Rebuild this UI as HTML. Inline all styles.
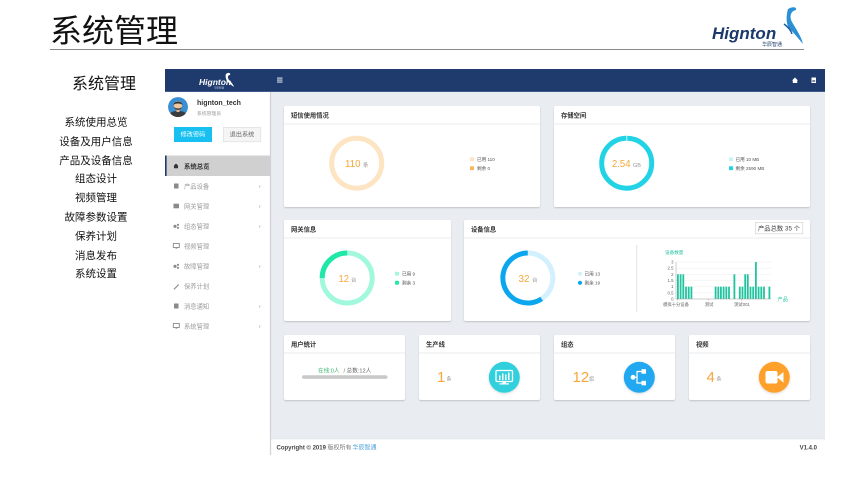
<!DOCTYPE html>
<html><head><meta charset="utf-8">
<style>
html,body{margin:0;padding:0;background:#fff;}
svg{display:block;}
text{font-family:"Liberation Sans","Noto Sans CJK SC",sans-serif;}
</style></head>
<body>
<svg width="842" height="480" viewBox="0 0 842 480" xmlns="http://www.w3.org/2000/svg">
<defs>
<filter id="sh" x="-5%" y="-5%" width="110%" height="115%">
<feDropShadow dx="0" dy="1" stdDeviation="0.8" flood-color="#000" flood-opacity="0.18"/>
</filter>
<filter id="ish" x="-30%" y="-30%" width="160%" height="160%">
<feDropShadow dx="0" dy="1" stdDeviation="1.2" flood-color="#000" flood-opacity="0.15"/>
</filter>
<clipPath id="av"><circle cx="178" cy="107" r="10"/></clipPath>
</defs>
<rect width="842" height="480" fill="#fff"/>

<!-- Slide title -->
<text x="50" y="42" font-size="32" fill="#111">系统管理</text>
<line x1="50" y1="49.5" x2="804" y2="49.5" stroke="#8a8a8a" stroke-width="1"/>

<!-- top right logo -->
<path d="M788 9 C793 6 797 7 796 10 C791 11 789 16 792 22 C796 29 801 36 803 44 C798 38 793 32 789 28 C786 24 786 16 788 9 Z" fill="#2b8fd4"/>
<path d="M784 24 C788 27 791 30 792 34" stroke="#1b5ea0" stroke-width="1.5" fill="none"/>
<text x="712" y="39" font-size="17" font-weight="bold" font-style="italic" fill="#1b3a6a">Hignton</text>
<text x="762" y="46" font-size="5" fill="#1b3a6a">华辰智通</text>

<!-- Left list -->
<text x="104" y="89" font-size="16" text-anchor="middle" fill="#111">系统管理</text>
<g font-size="10.5" text-anchor="middle" fill="#111">
<text x="96" y="125.5">系统使用总览</text>
<text x="96" y="144.8">设备及用户信息</text>
<text x="96" y="163.8">产品及设备信息</text>
<text x="96" y="182.1">组态设计</text>
<text x="96" y="201.1">视频管理</text>
<text x="96" y="220.5">故障参数设置</text>
<text x="96" y="239.5">保养计划</text>
<text x="96" y="258.8">消息发布</text>
<text x="96" y="277.1">系统设置</text>
</g>

<!-- App frame -->
<rect x="165" y="69" width="660" height="23" fill="#1f3b6d"/>
<rect x="165" y="91" width="660" height="1" fill="#3d5c8c"/>
<rect x="165" y="92" width="105" height="363" fill="#fff"/>
<rect x="271" y="92" width="554" height="347" fill="#e9edf2"/>
<rect x="271" y="439" width="554" height="16" fill="#fff"/>
<line x1="271" y1="439" x2="825" y2="439" stroke="#dde1e6" stroke-width="0.6"/>
<line x1="270.5" y1="92" x2="270.5" y2="455" stroke="#cfd2d6" stroke-width="1.2"/>

<!-- navbar logo -->
<text x="199" y="85" font-size="8.5" font-weight="bold" font-style="italic" fill="#fff">Hignton</text>
<path d="M226 74 C228 72 231 73 230 75 C228 75 227 77 229 80 C231 82 233 84 234 87 C231 85 229 83 227 81 C226 79 225 76 226 74Z" fill="#fff"/>
<text x="214" y="88.5" font-size="2.5" fill="#cfd8e8">华辰智通</text>
<!-- hamburger -->
<rect x="277" y="77.6" width="5.5" height="0.9" fill="#fff"/>
<rect x="277" y="79.6" width="5.5" height="0.9" fill="#fff"/>
<rect x="277" y="81.6" width="5.5" height="0.9" fill="#fff"/>
<!-- home icon -->
<path d="M792 80.5 L795 77.5 L798 80.5 L797.2 80.5 L797.2 83 L792.8 83 L792.8 80.5 Z" fill="#fff"/>
<!-- doc icon -->
<rect x="811.5" y="77.5" width="4.5" height="5.5" fill="#fff"/>
<rect x="812.3" y="80" width="2.9" height="0.6" fill="#1f3b6d"/>
<rect x="812.3" y="81.3" width="2.9" height="0.6" fill="#1f3b6d"/>

<!-- user -->
<g clip-path="url(#av)">
<circle cx="178" cy="107" r="10" fill="#3a8fd2"/>
<path d="M168 118 C169 112 173 111 178 111 C183 111 187 112 188 118 Z" fill="#3b3b3b"/>
<rect x="176.5" y="109" width="3" height="3" fill="#e8b98f"/>
<circle cx="178" cy="105.5" r="4.2" fill="#f1c79d"/>
<path d="M173.6 105 C173.5 100.5 182.5 100.5 182.4 105 C181 103 175 103 173.6 105Z" fill="#333"/>
<path d="M174 106.5 C174.5 111 181.5 111 182 106.5 C181 109 175 109 174 106.5Z" fill="#4a3a30"/>
</g>
<text x="197" y="105" font-size="7" font-weight="bold" fill="#333">hignton_tech</text>
<text x="197" y="115" font-size="4.8" fill="#9a9a9a">系统管理员</text>
<rect x="174" y="127" width="38" height="15" fill="#17c0f0"/>
<text x="193" y="136.6" font-size="6.2" fill="#fff" text-anchor="middle">修改密码</text>
<rect x="223.3" y="127.3" width="37.5" height="14.5" fill="#f5f5f5" stroke="#dcdcdc" stroke-width="0.6"/>
<text x="242" y="136.6" font-size="6.2" fill="#666" text-anchor="middle">退出系统</text>

<!-- active menu -->
<rect x="165" y="155.5" width="105" height="20.5" fill="#d0d0d0"/>
<rect x="165" y="155.5" width="1.6" height="20.5" fill="#1f3b6d"/>
<path d="M173.5 166 L176 163.5 L178.5 166 L178 166 L178 168.2 L174 168.2 L174 166Z" fill="#333"/>
<text x="184" y="168.3" font-size="6.4" font-weight="bold" fill="#333">系统总览</text>

<g font-size="6.3" fill="#9b9b9b">
<text x="184" y="188.3">产品设备</text>
<text x="184" y="208.3">网关管理</text>
<text x="184" y="228.3">组态管理</text>
<text x="184" y="248.3">视频管理</text>
<text x="184" y="268.3">故障管理</text>
<text x="184" y="288.3">保养计划</text>
<text x="184" y="308.3">消息通知</text>
<text x="184" y="328.3">系统管理</text>
</g>
<g fill="#8a8a8a">
<rect x="174" y="183.5" width="4.5" height="5" rx="0.5"/>
<rect x="173.5" y="203.7" width="5.5" height="4.6"/>
<circle cx="175" cy="226.3" r="1.6"/><circle cx="178" cy="224.8" r="1.1"/><circle cx="178" cy="227.8" r="1.1"/>
<rect x="173.3" y="243.5" width="6" height="4" fill="none" stroke="#8a8a8a" stroke-width="0.9"/><rect x="175.5" y="247.5" width="1.6" height="1.2"/>
<circle cx="175" cy="266.3" r="1.6"/><circle cx="178" cy="264.8" r="1.1"/><circle cx="178" cy="267.8" r="1.1"/>
<path d="M173.5 289 L177 285.5 L178.5 284 L179 285 L177.8 286.2 L174.3 289.7Z"/>
<rect x="174" y="303.5" width="4.5" height="5" rx="0.5"/>
<rect x="173.3" y="323.5" width="6" height="4" fill="none" stroke="#8a8a8a" stroke-width="0.9"/><rect x="175.5" y="327.5" width="1.6" height="1.2"/>
</g>
<g font-size="7" fill="#b0b0b0">
<text x="258.5" y="188.5">‹</text>
<text x="258.5" y="208.5">‹</text>
<text x="258.5" y="228.5">‹</text>
<text x="258.5" y="268.5">‹</text>
<text x="258.5" y="308.5">‹</text>
<text x="258.5" y="328.5">‹</text>
</g>

<!-- Cards -->
<g fill="#fff" filter="url(#sh)">
<rect x="284" y="106" width="256" height="101" rx="2"/>
<rect x="554" y="106" width="256" height="101" rx="2"/>
<rect x="284" y="220" width="167" height="101" rx="2"/>
<rect x="464" y="220" width="346" height="101" rx="2"/>
<rect x="284" y="335" width="121" height="65" rx="2"/>
<rect x="419" y="335" width="121" height="65" rx="2"/>
<rect x="554" y="335" width="121" height="65" rx="2"/>
<rect x="689" y="335" width="121" height="65" rx="2"/>
</g>
<g stroke="#e3e5e8" stroke-width="0.8">
<line x1="284" y1="124" x2="540" y2="124"/>
<line x1="554" y1="124" x2="810" y2="124"/>
<line x1="284" y1="238" x2="451" y2="238"/>
<line x1="464" y1="238" x2="810" y2="238"/>
<line x1="284" y1="353" x2="405" y2="353"/>
<line x1="419" y1="353" x2="540" y2="353"/>
<line x1="554" y1="353" x2="675" y2="353"/>
<line x1="689" y1="353" x2="810" y2="353"/>
</g>
<g font-size="6.3" font-weight="bold" fill="#333">
<text x="291" y="117.5">短信使用情况</text>
<text x="561" y="117.5">存储空间</text>
<text x="291" y="231.5">网关信息</text>
<text x="471" y="231.5">设备信息</text>
<text x="291" y="346.5">用户统计</text>
<text x="426" y="346.5">生产线</text>
<text x="561" y="346.5">组态</text>
<text x="696" y="346.5">视频</text>
</g>

<!-- Donut 1 -->
<circle cx="356.7" cy="163.2" r="25" fill="none" stroke="#fde4c3" stroke-width="5"/>
<text x="345" y="167" font-size="10.5" fill="#f8a63a" textLength="15.5" lengthAdjust="spacingAndGlyphs">110</text>
<text x="363" y="166.8" font-size="5.5" fill="#999">条</text>
<rect x="470" y="157.3" width="4" height="3.8" fill="#fde4c3"/>
<rect x="470" y="166.3" width="4" height="3.8" fill="#f9b75a"/>
<text x="477" y="161" font-size="4.6" fill="#555">已用 110</text>
<text x="477" y="170" font-size="4.6" fill="#555">剩余 0</text>

<!-- Donut 2 -->
<circle cx="626.7" cy="163.2" r="25" fill="none" stroke="#22d3e6" stroke-width="5"/>
<rect x="626.4" y="135.7" width="0.8" height="5" fill="#e6fbfd"/>
<text x="612" y="167" font-size="10.5" fill="#f8a63a" textLength="18.5" lengthAdjust="spacingAndGlyphs">2.54</text>
<text x="633" y="166.8" font-size="5.5" fill="#999">GB</text>
<rect x="729" y="157.3" width="4" height="3.8" fill="#c9f3fa"/>
<rect x="729" y="166.3" width="4" height="3.8" fill="#22d3e6"/>
<text x="735.5" y="161" font-size="4.6" fill="#555">已用 10 MB</text>
<text x="735.5" y="170" font-size="4.6" fill="#555">剩余 2590 MB</text>

<!-- Donut 3 -->
<circle cx="347.2" cy="278" r="25" fill="none" stroke="#a2f8dd" stroke-width="5"/>
<path d="M322.2 278 A25 25 0 0 1 347.2 253" fill="none" stroke="#1de8a8" stroke-width="5"/>
<text x="338.5" y="282" font-size="10.5" fill="#f8a63a" textLength="10.5" lengthAdjust="spacingAndGlyphs">12</text>
<text x="351" y="281.8" font-size="5.5" fill="#999">台</text>
<rect x="395" y="271.7" width="4" height="4" rx="1.2" fill="#a2f8dd"/>
<rect x="395" y="280.7" width="4" height="4" rx="1.2" fill="#1de8a8"/>
<text x="402" y="275.5" font-size="4.6" fill="#555">已用 9</text>
<text x="402" y="284.5" font-size="4.6" fill="#555">剩余 3</text>

<!-- Donut 4 -->
<path d="M527.8 253 A25 25 0 0 1 541.7 298.8" fill="none" stroke="#d2f0fd" stroke-width="5"/>
<path d="M541.7 298.8 A25 25 0 1 1 527.8 253" fill="none" stroke="#0ca6ee" stroke-width="5"/>
<text x="518.5" y="282" font-size="10.5" fill="#f8a63a" textLength="11" lengthAdjust="spacingAndGlyphs">32</text>
<text x="532" y="281.8" font-size="5.5" fill="#999">台</text>
<circle cx="580" cy="273.8" r="2.1" fill="#d2f0fd"/>
<circle cx="580" cy="282.8" r="2.1" fill="#0ca6ee"/>
<text x="584.5" y="275.5" font-size="4.6" fill="#555">已用 13</text>
<text x="584.5" y="284.5" font-size="4.6" fill="#555">剩余 19</text>

<!-- product count box -->
<rect x="755.3" y="222.3" width="47.5" height="11.5" fill="#fff" stroke="#cfcfcf" stroke-width="0.6"/>
<text x="779" y="230.6" font-size="6.3" fill="#444" text-anchor="middle">产品总数 35 个</text>

<!-- divider -->
<line x1="636.8" y1="245" x2="636.8" y2="312" stroke="#dcdcdc" stroke-width="0.8"/>

<!-- bar chart -->
<text x="665" y="254" font-size="4.6" fill="#22c4a0">设备数量</text>
<g stroke="#ececec" stroke-width="0.5">
<line x1="676" y1="262" x2="771" y2="262"/>
<line x1="676" y1="268.2" x2="771" y2="268.2"/>
<line x1="676" y1="274.3" x2="771" y2="274.3"/>
<line x1="676" y1="280.5" x2="771" y2="280.5"/>
<line x1="676" y1="286.7" x2="771" y2="286.7"/>
<line x1="676" y1="292.8" x2="771" y2="292.8"/>
</g>
<g font-size="4.3" fill="#666" text-anchor="end">
<text x="673.5" y="263.5">3</text>
<text x="673.5" y="269.7">2.5</text>
<text x="673.5" y="275.8">2</text>
<text x="673.5" y="282">1.5</text>
<text x="673.5" y="288.2">1</text>
<text x="673.5" y="294.3">0.5</text>
<text x="673.5" y="300.5">0</text>
</g>
<g fill="#22c4a0">
<rect x="677.0" y="274.3" width="1.8" height="24.7"/>
<rect x="679.7" y="274.3" width="1.8" height="24.7"/>
<rect x="682.4" y="274.3" width="1.8" height="24.7"/>
<rect x="685.1" y="286.7" width="1.8" height="12.3"/>
<rect x="687.8" y="286.7" width="1.8" height="12.3"/>
<rect x="690.5" y="286.7" width="1.8" height="12.3"/>
<rect x="714.7" y="286.7" width="1.8" height="12.3"/>
<rect x="717.4" y="286.7" width="1.8" height="12.3"/>
<rect x="720.0" y="286.7" width="1.8" height="12.3"/>
<rect x="722.7" y="286.7" width="1.8" height="12.3"/>
<rect x="725.4" y="286.7" width="1.8" height="12.3"/>
<rect x="728.1" y="286.7" width="1.8" height="12.3"/>
<rect x="733.5" y="274.3" width="1.8" height="24.7"/>
<rect x="738.9" y="286.7" width="1.8" height="12.3"/>
<rect x="741.6" y="286.7" width="1.8" height="12.3"/>
<rect x="744.3" y="274.3" width="1.8" height="24.7"/>
<rect x="746.9" y="274.3" width="1.8" height="24.7"/>
<rect x="749.6" y="286.7" width="1.8" height="12.3"/>
<rect x="752.3" y="286.7" width="1.8" height="12.3"/>
<rect x="755.0" y="262" width="1.8" height="37"/>
<rect x="757.7" y="286.7" width="1.8" height="12.3"/>
<rect x="760.4" y="286.7" width="1.8" height="12.3"/>
<rect x="763.1" y="286.7" width="1.8" height="12.3"/>
<rect x="768.5" y="286.7" width="1.8" height="12.3"/>
</g>
<line x1="676" y1="262" x2="676" y2="299" stroke="#999" stroke-width="0.5"/>
<line x1="676" y1="299" x2="771" y2="299" stroke="#999" stroke-width="0.5"/>
<g stroke="#999" stroke-width="0.5">
<line x1="677.5" y1="299" x2="677.5" y2="300.5"/>
<line x1="708.5" y1="299" x2="708.5" y2="300.5"/>
<line x1="741.5" y1="299" x2="741.5" y2="300.5"/>
</g>
<g font-size="4.3" fill="#666" text-anchor="middle">
<text x="676" y="306">模拟十分设备</text>
<text x="709" y="306">测试</text>
<text x="742" y="306">测试001</text>
</g>
<text x="777.5" y="301" font-size="5.2" fill="#22c4a0">产品</text>

<!-- user stats -->
<text x="318" y="372.5" font-size="5.6" fill="#3db46d">在线:0人</text>
<text x="343.5" y="372.5" font-size="5.6" fill="#666">/ 总数:12人</text>
<rect x="302" y="375.3" width="85.5" height="3.6" rx="1.8" fill="#c9c9c9"/>

<!-- production line -->
<text x="437" y="382" font-size="15" fill="#f8a63a">1</text>
<text x="446.5" y="380.5" font-size="5" fill="#999">条</text>
<circle cx="504.3" cy="377.3" r="15.5" fill="#30d0dc" filter="url(#ish)"/>
<rect x="496" y="370.5" width="16.5" height="11" rx="1" fill="none" stroke="#fff" stroke-width="1.3"/>
<rect x="502.5" y="381.5" width="3.5" height="2" fill="#fff"/>
<rect x="499.5" y="383.3" width="9.5" height="1.2" fill="#fff"/>
<rect x="499" y="375.5" width="1.5" height="4.5" fill="#fff"/>
<rect x="502" y="373.5" width="1.5" height="6.5" fill="#fff"/>
<rect x="505" y="374.5" width="1.5" height="5.5" fill="#fff"/>
<rect x="508" y="372.5" width="1.5" height="7.5" fill="#fff"/>

<!-- config -->
<text x="572.5" y="382" font-size="15" fill="#f8a63a">12</text>
<text x="589" y="380.5" font-size="5" fill="#999">组</text>
<circle cx="639.3" cy="377.3" r="15.5" fill="#22a8f0" filter="url(#ish)"/>
<circle cx="633" cy="377.3" r="2.4" fill="#fff"/>
<path d="M633 377.3 H637 V371.5 H642 M637 377.3 V383 H642" stroke="#fff" stroke-width="1.2" fill="none"/>
<rect x="641.5" y="369.2" width="4.5" height="4.5" fill="#fff"/>
<rect x="641.5" y="380.8" width="4.5" height="4.5" fill="#fff"/>

<!-- video -->
<text x="706.5" y="382" font-size="15" fill="#f8a63a">4</text>
<text x="716.5" y="380.5" font-size="5" fill="#999">条</text>
<circle cx="774.3" cy="377.3" r="15.5" fill="#ffa02a" filter="url(#ish)"/>
<rect x="765.5" y="371" width="12" height="12.5" rx="2" fill="#fff"/>
<path d="M777 377.3 L783.5 372 V382.6 Z" fill="#fff"/>

<!-- footer -->
<text x="276.5" y="449.5" font-size="6" font-weight="bold" fill="#444">Copyright © 2019</text>
<text x="327.5" y="449.5" font-size="6" fill="#777">版权所有</text>
<text x="352.5" y="449.5" font-size="6" fill="#4aa0d8">华辰智通</text>
<text x="817" y="449.5" font-size="6" font-weight="bold" fill="#444" text-anchor="end">V1.4.0</text>
</svg>
</body></html>
